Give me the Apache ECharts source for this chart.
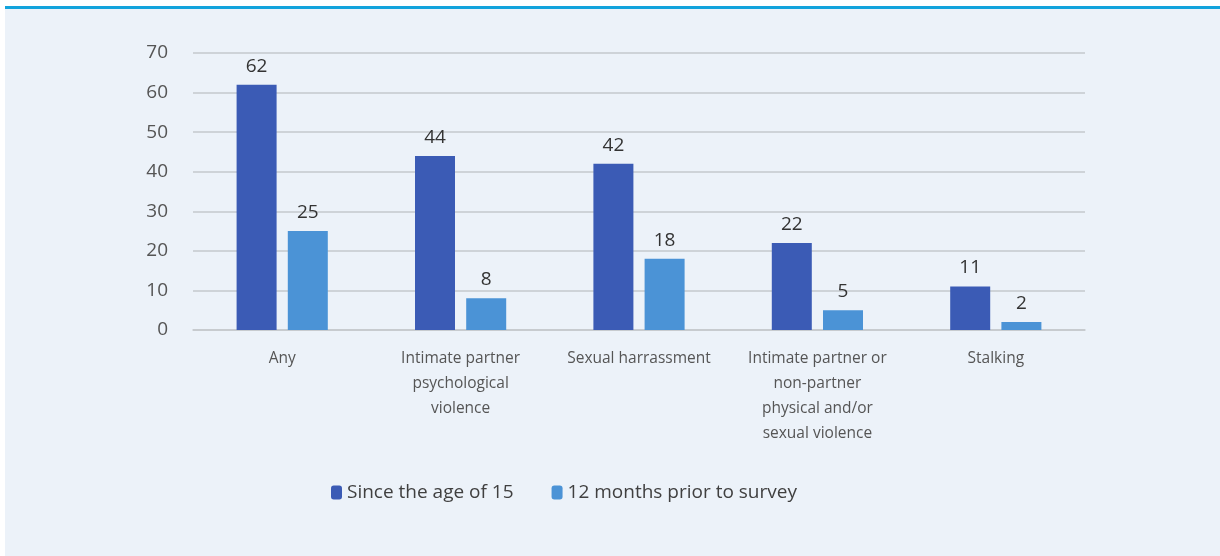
<!DOCTYPE html>
<html>
<head>
<meta charset="utf-8">
<script src="https://cdn.jsdelivr.net/npm/echarts@6/dist/echarts.min.js"></script>
<style>
  html, body { margin: 0; padding: 0; background: #ffffff; }
  #wrap { position: absolute; left: 5px; top: 6px; width: 1215px; height: 550px; background: #ecf2f9; border-top: 3px solid #12a3dc; box-sizing: border-box; }
  #chart { position: absolute; left: -5px; top: -9px; width: 1220px; height: 556px; }
</style>
</head>
<body>
<div id="wrap"><div id="chart"></div></div>
<script>
// 数据
const categories = ['Any', 'Intimate partner\npsychological\nviolence', 'Sexual harrassment', 'Intimate partner or\nnon-partner\nphysical and/or\nsexual violence', 'Stalking']
const seriesNames = ['Since the age of 15', '12 months prior to survey']
const sinceAge15 = [62, 44, 42, 22, 11]
const prior12Months = [25, 8, 18, 5, 2]
const yTicks = { min: 0, max: 70, interval: 10 }

let myChart = echarts.init(document.getElementById('chart'))
let labelStyle = { show: true, position: 'top', distance: 9, fontSize: 19, color: '#333', fontFamily: 'Open Sans' }
let option = {
  backgroundColor: 'transparent',
  animation: false,
  grid: { left: 193, right: 135, top: 53, bottom: 226 },
  legend: {
    bottom: 49,
    left: 326,
    itemWidth: 11,
    itemHeight: 14,
    itemGap: 38,
    textStyle: { fontSize: 19, color: '#404040', fontFamily: 'Open Sans' },
    data: seriesNames
  },
  xAxis: {
    type: 'category',
    data: categories,
    axisLine: { lineStyle: { color: '#c5c8cc', width: 1.5 } },
    axisTick: { show: false },
    axisLabel: { fontSize: 15.5, color: '#555', lineHeight: 25, margin: 16, fontFamily: 'Open Sans', interval: 0 }
  },
  yAxis: {
    type: 'value',
    min: yTicks.min,
    max: yTicks.max,
    interval: yTicks.interval,
    axisLine: { show: false },
    axisTick: { show: false },
    splitLine: { lineStyle: { color: '#c5c8cc', width: 1.5 } },
    axisLabel: { fontSize: 19, color: '#555', margin: 25, fontFamily: 'Open Sans' }
  },
  series: [
    {
      name: seriesNames[0],
      type: 'bar',
      data: sinceAge15,
      barWidth: 40,
      barGap: '28%',
      itemStyle: { color: '#3b5bb5' },
      label: labelStyle
    },
    {
      name: seriesNames[1],
      type: 'bar',
      data: prior12Months,
      barWidth: 40,
      itemStyle: { color: '#4b93d6' },
      label: labelStyle
    }
  ]
}
myChart.setOption(option)
</script>
</body>
</html>
